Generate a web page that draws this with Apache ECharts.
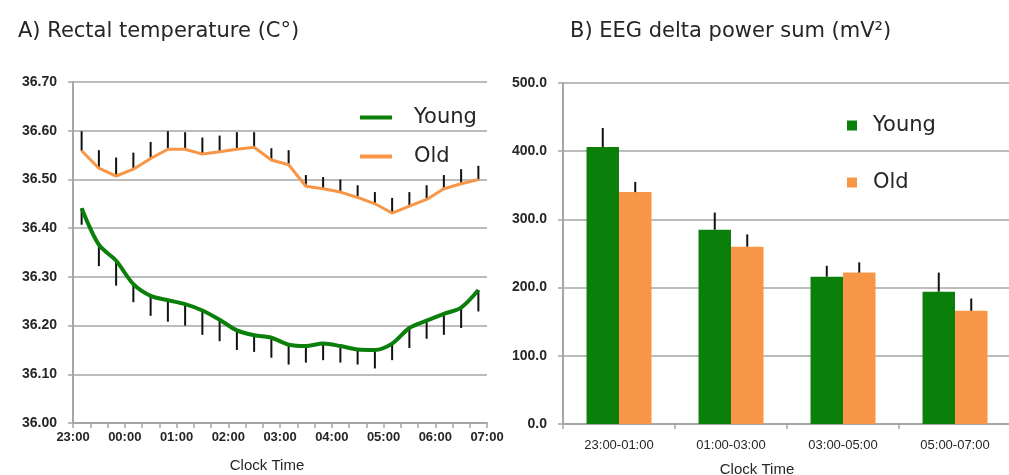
<!DOCTYPE html>
<html>
<head>
<meta charset="utf-8">
<script src="https://cdn.jsdelivr.net/npm/echarts@6/dist/echarts.min.js"></script>
<style>
  html, body { margin: 0; padding: 0; background: #ffffff; }
  #chart { width: 1009px; height: 475px; }
</style>
</head>
<body>
<div id="chart"></div>
<script>
// Panel A: rectal temperature in 20-minute bins from 23:00 to 07:00
const hourLabels = ['23:00', '00:00', '01:00', '02:00', '03:00', '04:00', '05:00', '06:00', '07:00'];
const binsPerHour = 3;
const youngTemp = [36.441, 36.366, 36.333, 36.285, 36.261, 36.252, 36.244, 36.231, 36.212, 36.190, 36.180, 36.175,
                   36.161, 36.158, 36.163, 36.158, 36.151, 36.150, 36.163, 36.195, 36.210, 36.224, 36.237, 36.273];
const youngTempSem = [0.034, 0.044, 0.051, 0.037, 0.041, 0.044, 0.044, 0.050, 0.044, 0.040, 0.034, 0.041,
                      0.041, 0.034, 0.034, 0.034, 0.031, 0.038, 0.034, 0.041, 0.037, 0.043, 0.042, 0.044];
const oldTemp = [36.559, 36.523, 36.507, 36.521, 36.543, 36.562, 36.562, 36.552, 36.557, 36.562, 36.566, 36.540,
                 36.530, 36.486, 36.481, 36.474, 36.463, 36.450, 36.431, 36.445, 36.459, 36.481, 36.491, 36.500];
const oldTempSem = [0.040, 0.037, 0.038, 0.034, 0.034, 0.037, 0.035, 0.034, 0.033, 0.035, 0.031, 0.024,
                    0.030, 0.023, 0.024, 0.026, 0.025, 0.024, 0.031, 0.029, 0.029, 0.028, 0.030, 0.028];

// Panel B: EEG delta power sum per two-hour block
const blocks = ['23:00-01:00', '01:00-03:00', '03:00-05:00', '05:00-07:00'];
const youngDelta = [406, 285, 216, 194];
const youngDeltaSem = [28, 25, 16, 28];
const oldDelta = [340, 260, 222, 166];
const oldDeltaSem = [15, 18, 15, 18];

const GREEN = '#0a7f0a';
const ORANGE = '#f79646';
const GRID_GRAY = '#a6a6a6';
const TEXT = '#262626';
const FONT = "'Liberation Sans', Arial, sans-serif";
const WIDE_FONT = "'DejaVu Sans', 'Liberation Sans', sans-serif";

// x position (in hours after 23:00) of the middle of each 20-minute bin
const binX = i => (i + 0.5) / binsPerHour;
const toPairs = vals => vals.map((v, i) => [binX(i), v]);
const errPairs = (vals, sems, dir) => vals.map((v, i) => [binX(i), v, v + dir * sems[i]]);

// vertical whisker from the mean to mean ± SEM
function whisker(params, api) {
  const a = api.coord([api.value(0), api.value(1)]);
  const b = api.coord([api.value(0), api.value(2)]);
  return { type: 'line', shape: { x1: a[0], y1: a[1], x2: b[0], y2: b[1] },
           style: { stroke: '#111', lineWidth: 2 } };
}

// whisker placed over one of the two bars of a category
const CAT_GAP = 0.42;
function barWhisker(side) {
  return function (params, api) {
    const cat = api.value(0);
    const band = api.size([1, 0])[0];
    const bw = band * (1 - CAT_GAP) / 2;
    const c = api.coord([cat, api.value(1)]);
    const t = api.coord([cat, api.value(2)]);
    const x = c[0] + side * bw / 2;
    return { type: 'line', shape: { x1: x, y1: c[1], x2: x, y2: t[1] },
             style: { stroke: '#111', lineWidth: 2 } };
  };
}

const chart = echarts.init(document.getElementById('chart'), null, { renderer: 'canvas' });

const axisLine = { show: true, lineStyle: { color: GRID_GRAY, width: 2 } };
const axisTick = { show: true, length: 5, lineStyle: { color: GRID_GRAY, width: 1.5 } };
const splitLine = { show: true, lineStyle: { color: GRID_GRAY, width: 1.5 } };

chart.setOption({
  animation: false,
  textStyle: { fontFamily: FONT },
  title: [
    { text: 'A) Rectal temperature (C°)', left: 13, top: 16,
      textStyle: { fontSize: 21, fontWeight: 'normal', color: TEXT, fontFamily: WIDE_FONT } },
    { text: 'B) EEG delta power sum (mV²)', left: 565, top: 16,
      textStyle: { fontSize: 21, fontWeight: 'normal', color: TEXT, fontFamily: WIDE_FONT } }
  ],
  legend: [
    { orient: 'vertical', left: 355, top: 102, itemGap: 18, selectedMode: false,
      icon: 'rect', itemWidth: 32, itemHeight: 4,
      data: ['Young', 'Old'],
      textStyle: { fontSize: 21, color: TEXT, fontFamily: WIDE_FONT, padding: [0, 0, 0, 17] } },
    { orient: 'vertical', left: 842, top: 110, itemGap: 36, selectedMode: false,
      icon: 'rect', itemWidth: 10, itemHeight: 10,
      data: ['Young ', 'Old '],
      textStyle: { fontSize: 21, color: TEXT, fontFamily: WIDE_FONT, padding: [0, 0, 0, 11] } }
  ],
  grid: [
    { left: 73, top: 82, width: 414, height: 341, containLabel: false, outerBoundsMode: 'none' },
    { left: 563, top: 83, width: 448, height: 341, containLabel: false, outerBoundsMode: 'none' }
  ],
  xAxis: [
    { type: 'value', gridIndex: 0, min: 0, max: 8, interval: 1,
      axisLine, axisTick, splitLine: { show: false },
      minorTick: { show: true, splitNumber: binsPerHour, length: 5, lineStyle: { color: GRID_GRAY, width: 1.5 } },
      axisLabel: { margin: 8, fontSize: 13, color: TEXT, fontWeight: 'bold',
                   formatter: v => hourLabels[Math.round(v)] },
      name: 'Clock Time', nameLocation: 'middle', nameGap: 35,
      nameTextStyle: { fontSize: 15, color: TEXT, padding: [0, 26, 0, 0] } },
    { type: 'category', gridIndex: 1, data: blocks,
      axisLine, axisTick: { show: true, length: 5, interval: 0, lineStyle: { color: GRID_GRAY, width: 1.5 } },
      axisLabel: { margin: 15, fontSize: 13, color: TEXT, interval: 0 },
      name: 'Clock Time', nameLocation: 'middle', nameGap: 38,
      nameTextStyle: { fontSize: 15, color: TEXT, padding: [0, 60, 0, 0] } }
  ],
  yAxis: [
    { type: 'value', gridIndex: 0, min: 36, max: 36.7, interval: 0.1,
      axisLine, axisTick, splitLine,
      axisLabel: { margin: 16, fontSize: 14, fontWeight: 'bold', color: TEXT, formatter: v => v.toFixed(2) } },
    { type: 'value', gridIndex: 1, min: 0, max: 500, interval: 100,
      axisLine, axisTick, splitLine,
      axisLabel: { margin: 16, fontSize: 14, fontWeight: 'bold', color: TEXT, formatter: v => v.toFixed(1) } }
  ],
  series: [
    { name: 'Young', type: 'line', xAxisIndex: 0, yAxisIndex: 0, data: toPairs(youngTemp),
      smooth: 0.3, showSymbol: false, color: GREEN, lineStyle: { width: 4, color: GREEN }, z: 3 },
    { name: 'Old', type: 'line', xAxisIndex: 0, yAxisIndex: 0, data: toPairs(oldTemp),
      showSymbol: false, color: ORANGE, lineStyle: { width: 3, color: ORANGE }, z: 3 },
    { type: 'custom', xAxisIndex: 0, yAxisIndex: 0, renderItem: whisker,
      data: errPairs(youngTemp, youngTempSem, -1), encode: { x: 0, y: [1, 2] }, z: 2 },
    { type: 'custom', xAxisIndex: 0, yAxisIndex: 0, renderItem: whisker,
      data: errPairs(oldTemp, oldTempSem, 1), encode: { x: 0, y: [1, 2] }, z: 2 },

    { name: 'Young ', type: 'bar', xAxisIndex: 1, yAxisIndex: 1, data: youngDelta,
      color: GREEN, barGap: '0%', barCategoryGap: (CAT_GAP * 100) + '%' },
    { name: 'Old ', type: 'bar', xAxisIndex: 1, yAxisIndex: 1, data: oldDelta,
      color: ORANGE, barGap: '0%', barCategoryGap: (CAT_GAP * 100) + '%' },
    { type: 'custom', xAxisIndex: 1, yAxisIndex: 1, renderItem: barWhisker(-1),
      data: youngDelta.map((v, i) => [i, v, v + youngDeltaSem[i]]), encode: { x: 0, y: [1, 2] }, z: 3 },
    { type: 'custom', xAxisIndex: 1, yAxisIndex: 1, renderItem: barWhisker(1),
      data: oldDelta.map((v, i) => [i, v, v + oldDeltaSem[i]]), encode: { x: 0, y: [1, 2] }, z: 3 }
  ]
});
</script>
</body>
</html>
